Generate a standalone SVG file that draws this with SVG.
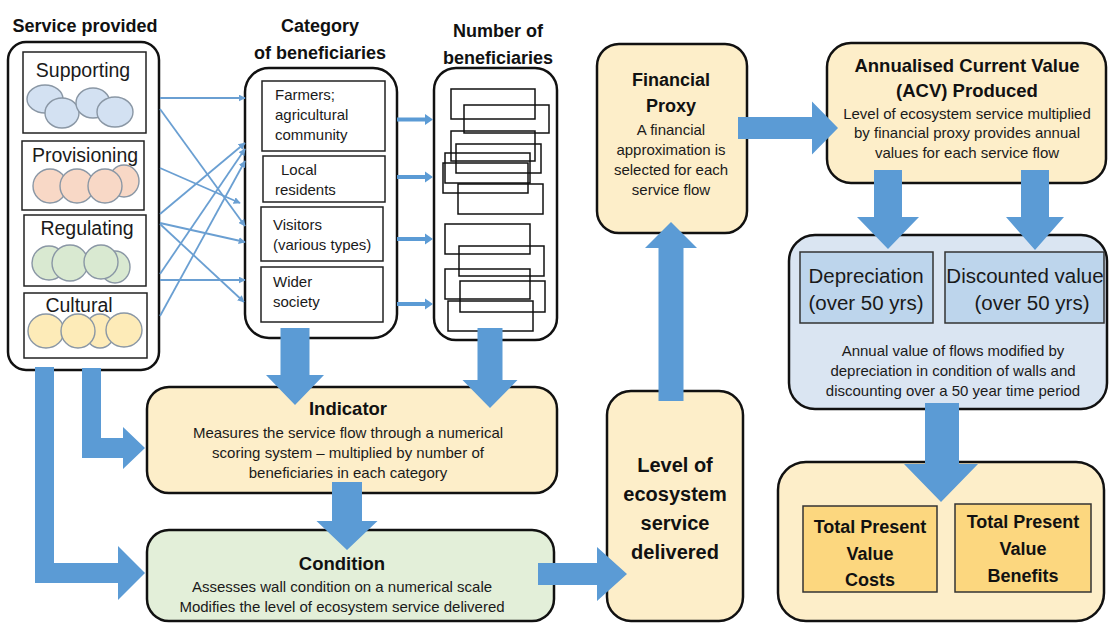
<svg xmlns="http://www.w3.org/2000/svg" width="1110" height="624" viewBox="0 0 1110 624">
<defs>
<style>
text{font-family:"Liberation Sans",Arial,sans-serif;fill:#111;}
.t{font-weight:bold;font-size:18px;text-anchor:middle;}
.h{font-weight:bold;font-size:18.5px;text-anchor:middle;}
.b{font-size:15px;text-anchor:middle;fill:#1a1a1a;}
.c{font-size:15px;fill:#1a1a1a;}
.s{font-size:19.5px;text-anchor:middle;fill:#1a1a1a;}
.d{font-size:20.5px;text-anchor:middle;fill:#1a1a1a;}
.cont{fill:#fff;stroke:#111;stroke-width:2.5;}
.box{fill:#fff;stroke:#222;stroke-width:1.5;}
.cream{fill:#fdeec9;stroke:#111;stroke-width:2.5;}
.green{fill:#e3efd9;stroke:#111;stroke-width:2.5;}
.blue{fill:#dae5f2;stroke:#111;stroke-width:2.5;}
.dbox{fill:#bdd5ec;stroke:#333;stroke-width:1.5;}
.gold{fill:#fcd77f;stroke:#333;stroke-width:1.5;}
.nb{fill:none;stroke:#111;stroke-width:1.5;}
.e{stroke:#8a97a5;stroke-width:1.4;}
.sup{fill:#d3e1f2;}
.pro{fill:#f8d8c6;}
.reg{fill:#d9e9d1;}
.cul{fill:#fdebb8;}
.arr{fill:#5b9bd5;}
.thin{stroke:#6a9fd2;stroke-width:1.8;fill:none;marker-end:url(#ah);}
</style>
<marker id="ah" viewBox="0 0 10 10" refX="9" refY="5" markerWidth="7" markerHeight="7" markerUnits="userSpaceOnUse" orient="auto">
<path d="M0,0 L10,5 L0,10 z" fill="#6a9fd2"/>
</marker>
</defs>
<rect width="1110" height="624" fill="#fff"/>

<g id="service-provided">
<text class="t" x="85" y="32">Service provided</text>
<rect class="cont" x="8" y="42" width="151" height="328" rx="18"/>
<rect class="box" x="23" y="52" width="123" height="81"/>
<text class="s" x="83" y="77">Supporting</text>
<ellipse class="e sup" cx="45" cy="99" rx="18" ry="14"/>
<ellipse class="e sup" cx="62" cy="113" rx="17" ry="15"/>
<ellipse class="e sup" cx="93" cy="103" rx="17" ry="15"/>
<ellipse class="e sup" cx="115" cy="112" rx="18" ry="15"/>
<rect class="box" x="22" y="141" width="122" height="69"/>
<text class="s" x="85" y="162">Provisioning</text>
<ellipse class="e pro" cx="50" cy="186" rx="17" ry="17"/>
<ellipse class="e pro" cx="77" cy="186" rx="17" ry="17"/>
<ellipse class="e pro" cx="124" cy="181" rx="15" ry="16"/>
<ellipse class="e pro" cx="105" cy="186" rx="17" ry="17"/>
<rect class="box" x="24" y="215" width="122" height="71"/>
<text class="s" x="87" y="235">Regulating</text>
<ellipse class="e reg" cx="49" cy="263" rx="17" ry="17"/>
<ellipse class="e reg" cx="70" cy="263" rx="18" ry="18"/>
<ellipse class="e reg" cx="115" cy="267" rx="15" ry="16"/>
<ellipse class="e reg" cx="101" cy="262" rx="17" ry="17"/>
<rect class="box" x="24" y="293" width="123" height="65"/>
<text class="s" x="79" y="312">Cultural</text>
<ellipse class="e cul" cx="100" cy="331" rx="15" ry="17"/>
<ellipse class="e cul" cx="46" cy="331" rx="18" ry="17"/>
<ellipse class="e cul" cx="78" cy="331" rx="17" ry="17"/>
<ellipse class="e cul" cx="124" cy="330" rx="18" ry="17"/>
</g>

<g id="category">
<text class="t" x="320" y="32">Category</text>
<text class="t" x="320" y="59">of beneficiaries</text>
<rect class="cont" x="245" y="68" width="152" height="270" rx="24"/>
<rect class="box" x="262" y="81" width="123" height="70"/>
<text class="c" x="275" y="100">Farmers;</text>
<text class="c" x="275" y="120">agricultural</text>
<text class="c" x="275" y="140">community</text>
<rect class="box" x="263" y="156" width="122" height="46"/>
<text class="c" x="281" y="175">Local</text>
<text class="c" x="275" y="195">residents</text>
<rect class="box" x="261" y="207" width="122" height="54"/>
<text class="c" x="273" y="230">Visitors</text>
<text class="c" x="273" y="250">(various types)</text>
<rect class="box" x="261" y="267" width="122" height="55"/>
<text class="c" x="273" y="287">Wider</text>
<text class="c" x="273" y="307">society</text>
</g>

<g id="number">
<text class="t" x="498" y="37">Number of</text>
<text class="t" x="498" y="64">beneficiaries</text>
<rect class="cont" x="434" y="68" width="123" height="272" rx="22"/>
<rect class="nb" x="451" y="89" width="84" height="30"/>
<rect class="nb" x="464" y="105" width="85" height="28"/>
<rect class="nb" x="451" y="131" width="84" height="30"/>
<rect class="nb" x="456" y="144" width="85" height="29"/>
<rect class="nb" x="445" y="153" width="85" height="30"/>
<rect class="nb" x="443" y="163" width="85" height="30"/>
<rect class="nb" x="458" y="184" width="85" height="30"/>
<rect class="nb" x="445" y="224" width="85" height="30"/>
<rect class="nb" x="459" y="246" width="85" height="30"/>
<rect class="nb" x="445" y="269" width="85" height="30"/>
<rect class="nb" x="460" y="281" width="85" height="31"/>
<rect class="nb" x="448" y="301" width="85" height="30"/>
</g>

<g id="indicator">
<rect class="cream" x="147" y="387" width="410" height="106" rx="22"/>
<text class="h" x="348" y="415">Indicator</text>
<text class="b" x="348" y="438">Measures the service flow through a numerical</text>
<text class="b" x="348" y="458">scoring system – multiplied by number of</text>
<text class="b" x="348" y="478">beneficiaries in each category</text>
</g>

<g id="condition">
<rect class="green" x="147" y="530" width="407" height="91" rx="22"/>
<text class="h" x="342" y="570">Condition</text>
<text class="b" x="342" y="592">Assesses wall condition on a numerical scale</text>
<text class="b" x="342" y="612">Modifies the level of ecosystem service delivered</text>
</g>

<g id="level">
<rect class="cream" x="607" y="391" width="136" height="230" rx="24"/>
<text class="t" x="675" y="472" style="font-size:20px">Level of</text>
<text class="t" x="675" y="501" style="font-size:20px">ecosystem</text>
<text class="t" x="675" y="530" style="font-size:20px">service</text>
<text class="t" x="675" y="559" style="font-size:20px">delivered</text>
</g>

<g id="financial-proxy">
<rect class="cream" x="597" y="44" width="150" height="189" rx="22"/>
<text class="t" x="671" y="86">Financial</text>
<text class="t" x="671" y="112">Proxy</text>
<text class="b" x="671" y="135">A financial</text>
<text class="b" x="671" y="155">approximation is</text>
<text class="b" x="671" y="175">selected for each</text>
<text class="b" x="671" y="195">service flow</text>
</g>

<g id="acv">
<rect class="cream" x="827" y="43" width="279" height="140" rx="24"/>
<text class="h" x="967" y="72">Annualised Current Value</text>
<text class="h" x="967" y="97">(ACV) Produced</text>
<text class="b" x="967" y="119">Level of ecosystem service multiplied</text>
<text class="b" x="967" y="138">by financial proxy provides annual</text>
<text class="b" x="967" y="158">values for each service flow</text>
</g>

<g id="depreciation-discounting">
<rect class="blue" x="789" y="235" width="318" height="174" rx="26"/>
<rect class="dbox" x="800" y="252" width="133" height="71"/>
<text class="d" x="866" y="283">Depreciation</text>
<text class="d" x="866" y="310">(over 50 yrs)</text>
<rect class="dbox" x="945" y="252" width="159" height="71"/>
<text class="d" x="1025" y="283">Discounted value</text>
<text class="d" x="1032" y="310">(over 50 yrs)</text>
<text class="b" x="953" y="356">Annual value of flows modified by</text>
<text class="b" x="953" y="376">depreciation in condition of walls and</text>
<text class="b" x="953" y="396">discounting over a 50 year time period</text>
</g>

<g id="total-present-value">
<rect class="cream" x="778" y="462" width="326" height="159" rx="28"/>
<rect class="gold" x="803" y="506" width="134" height="86"/>
<text class="t" x="870" y="533">Total Present</text>
<text class="t" x="870" y="560">Value</text>
<text class="t" x="870" y="586">Costs</text>
<rect class="gold" x="955" y="504" width="136" height="88"/>
<text class="t" x="1023" y="528">Total Present</text>
<text class="t" x="1023" y="555">Value</text>
<text class="t" x="1023" y="582">Benefits</text>
</g>

<g id="connectors">
<line class="thin" x1="160" y1="98" x2="245" y2="98"/>
<line class="thin" x1="160" y1="109" x2="245" y2="226"/>
<line class="thin" x1="160" y1="168" x2="240" y2="203"/>
<line class="thin" x1="160" y1="214" x2="245" y2="143"/>
<line class="thin" x1="160" y1="223" x2="245" y2="242"/>
<line class="thin" x1="160" y1="224" x2="244" y2="302"/>
<line class="thin" x1="160" y1="280" x2="245" y2="280"/>
<line class="thin" x1="160" y1="274" x2="245" y2="149"/>
<line class="thin" x1="160" y1="316" x2="245" y2="161"/>
<polygon class="arr" points="397,117.5 425,117.5 425,114 433,119.5 425,125 425,121.5 397,121.5"/>
<polygon class="arr" points="397,175 425,175 425,171.5 433,177 425,182.5 425,179 397,179"/>
<polygon class="arr" points="397,237 425,237 425,233.5 433,239 425,244.5 425,241 397,241"/>
<polygon class="arr" points="397,302 425,302 425,298.5 433,304 425,309.5 425,306 397,306"/>
<polygon class="arr" points="280.5,328 309.5,328 309.5,375 324,375 295,405 266,375 280.5,375"/>
<polygon class="arr" points="477.5,328 502.5,328 502.5,380 517.5,380 490,408 462.5,380 477.5,380"/>
<polygon class="arr" points="35,367 54,367 54,563 118,563 118,546 145,573 118,600 118,583 35,583"/>
<polygon class="arr" points="82,368 101,368 101,438 123,438 123,427 145,448 123,469 123,458 82,458"/>
<polygon class="arr" points="332,482 362,482 362,521 377.5,521 347,550 316.5,521 332,521"/>
<polygon class="arr" points="538,563 597,563 597,547 627,574 597,601 597,585 538,585"/>
<polygon class="arr" points="658.5,401 683.5,401 683.5,248 697,248 671,222 645,248 658.5,248"/>
<polygon class="arr" points="738,117 812,117 812,101.5 838,128 812,154.5 812,139 738,139"/>
<polygon class="arr" points="874,170 902,170 902,217 919,217 888,249 857,217 874,217"/>
<polygon class="arr" points="1021,170 1049,170 1049,217 1064,217 1035,250 1006,217 1021,217"/>
<polygon class="arr" points="925,403 959,403 959,464 978,464 941,502 904,464 925,464"/>
</g>
</svg>
